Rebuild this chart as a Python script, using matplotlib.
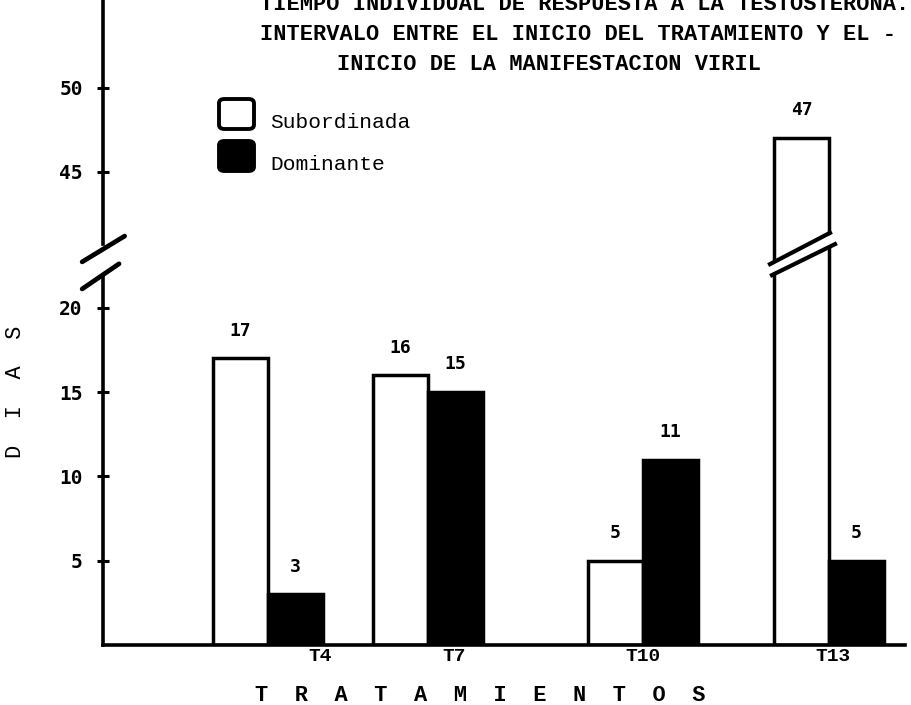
#!/usr/bin/env python3
"""Typewriter-style broken-axis bar chart: response time to testosterone."""

import matplotlib

matplotlib.use("Agg")
import matplotlib.pyplot as plt
import numpy as np
from matplotlib.patches import FancyBboxPatch, Polygon
from matplotlib.transforms import blended_transform_factory

GROUPS = ["T4", "T7", "T10", "T13"]
SUBORDINADA = [17, 16, 5, 47]
DOMINANTE = [3, 15, 11, 5]
Y_TICKS = [5, 10, 15, 20, 45, 50]
SERIES = ["Subordinada", "Dominante"]

TITLE_LINES = [
    "TIEMPO INDIVIDUAL DE RESPUESTA A LA TESTOSTERONA.",
    "INTERVALO ENTRE EL INICIO DEL TRATAMIENTO Y EL -",
    "INICIO DE LA MANIFESTACION VIRIL",
]

# layout (hand drawn, so groups are not evenly spaced)
GROUP_X = [165, 325, 540, 726]
LABEL_X = [217, 351, 540, 730]
BAR_W = 55
W, H = 911, 705
SERIF = "Liberation Mono"
SANS = "DejaVu Sans Mono"

# broken y scale: 0-22 linear, 40+ linear, squeezed in between
LO, HI, GAP = 22.0, 40.0, 16.93
MID = (HI - GAP - LO) / (HI - LO)


def fwd(y):
    y = np.asarray(y, dtype=float)
    return np.where(y <= LO, y, np.where(y >= HI, y - GAP, LO + (y - LO) * MID))


def inv(d):
    d = np.asarray(d, dtype=float)
    return np.where(d <= LO, d, np.where(d >= HI - GAP, d + GAP, LO + (d - LO) / MID))


def px(x, y):
    """pixel position (from top-left) -> figure fraction"""
    return x / W, 1 - y / H


def main() -> None:
    plt.rcParams["font.family"] = [SERIF, "DejaVu Sans"]
    plt.rcParams["font.weight"] = "bold"

    fig = plt.figure(figsize=(W / 100, H / 100), dpi=100)
    ax = fig.add_axes([103 / W, 60 / H, 802 / W, 645 / H])
    ax.set_yscale("function", functions=(fwd, inv))
    ax.set_ylim(0, 55.2)
    ax.set_xlim(0, 802)

    lw = 2.5
    xs = np.array(GROUP_X, dtype=float)
    ax.bar(xs - BAR_W / 2, SUBORDINADA, width=BAR_W, facecolor="white",
           edgecolor="black", linewidth=lw, zorder=2)
    ax.bar(xs + BAR_W / 2, DOMINANTE, width=BAR_W, facecolor="black",
           edgecolor="black", linewidth=lw, zorder=2)

    for offs, vals in ((-BAR_W / 2, SUBORDINADA), (BAR_W / 2, DOMINANTE)):
        for x, v in zip(xs + offs, vals):
            ax.annotate(str(v), (x, v), xytext=(0, 20), textcoords="offset points",
                        ha="center", va="center", fontsize=13, family=SANS)

    # break drawn across the tall T13 bar
    tr = blended_transform_factory(ax.transData, ax.transAxes)
    x0, x1 = xs[-1] - BAR_W - 6, xs[-1] + 6
    lower = (0.5735, 0.6215)
    upper = (0.5905, 0.6390)
    ax.add_patch(Polygon([(x0, lower[0]), (x1, lower[1]), (x1, upper[1]), (x0, upper[0])],
                         closed=True, facecolor="white", edgecolor="none",
                         transform=tr, zorder=3))
    ax.plot([x0 + 4, x1], lower, color="black", lw=3.0, transform=tr, zorder=4)
    ax.plot([x0 + 2, x1 - 5], upper, color="black", lw=3.0, transform=tr, zorder=4)

    # axes frame with the break on the y axis
    for side in ("left", "top", "right"):
        ax.spines[side].set_visible(False)
    ax.spines["bottom"].set_linewidth(2.6)
    ax.plot([0, 0], [0, 21.9], color="black", lw=2.6, clip_on=False, zorder=5)
    ax.plot([0, 0], [40.7, 55.2], color="black", lw=2.6, clip_on=False, zorder=5)
    ax.plot([-0.026, 0.027], [0.594, 0.634], color="black", lw=3.4,
            transform=ax.transAxes, clip_on=False, solid_capstyle="round")
    ax.plot([-0.026, 0.020], [0.552, 0.591], color="black", lw=3.4,
            transform=ax.transAxes, clip_on=False, solid_capstyle="round")

    ax.set_yticks(Y_TICKS)
    ax.set_yticklabels([str(t) for t in Y_TICKS], fontsize=14, family=SANS)
    ax.tick_params(axis="y", direction="inout", length=9, width=2.2, pad=10)
    ax.set_xticks(LABEL_X)
    ax.set_xticklabels(GROUPS, fontsize=14)
    ax.tick_params(axis="x", length=0, pad=2)
    ax.minorticks_off()

    # legend, drawn as in the typed original
    for (top, face), name in zip(((98, "white"), (140, "black")), SERIES):
        x, y = px(219, top + 31)
        fig.add_artist(FancyBboxPatch((x, y), 35 / W, 30 / H,
                                      boxstyle="round,pad=0,rounding_size=0.006",
                                      facecolor=face, edgecolor="black", linewidth=2.8,
                                      transform=fig.transFigure))
        fig.text(*px(270, top + 30), name, ha="left", va="baseline",
                 fontsize=15.3, weight="normal")

    title_pos = [(260, 10), (260, 40), (337, 70)]
    for (tx, ty), line in zip(title_pos, TITLE_LINES):
        fig.text(*px(tx, ty), line, ha="left", va="baseline", fontsize=15.8)

    fig.text(*px(255, 701), "T  R  A  T  A  M  I  E  N  T  O  S",
             ha="left", va="baseline", fontsize=15.8)
    fig.text(*px(16, 392), "D  I  A  S", rotation=90,
             ha="center", va="center", fontsize=15.8, weight="normal")

    fig.savefig("out.png", dpi=100)
    plt.close(fig)


if __name__ == "__main__":
    main()
